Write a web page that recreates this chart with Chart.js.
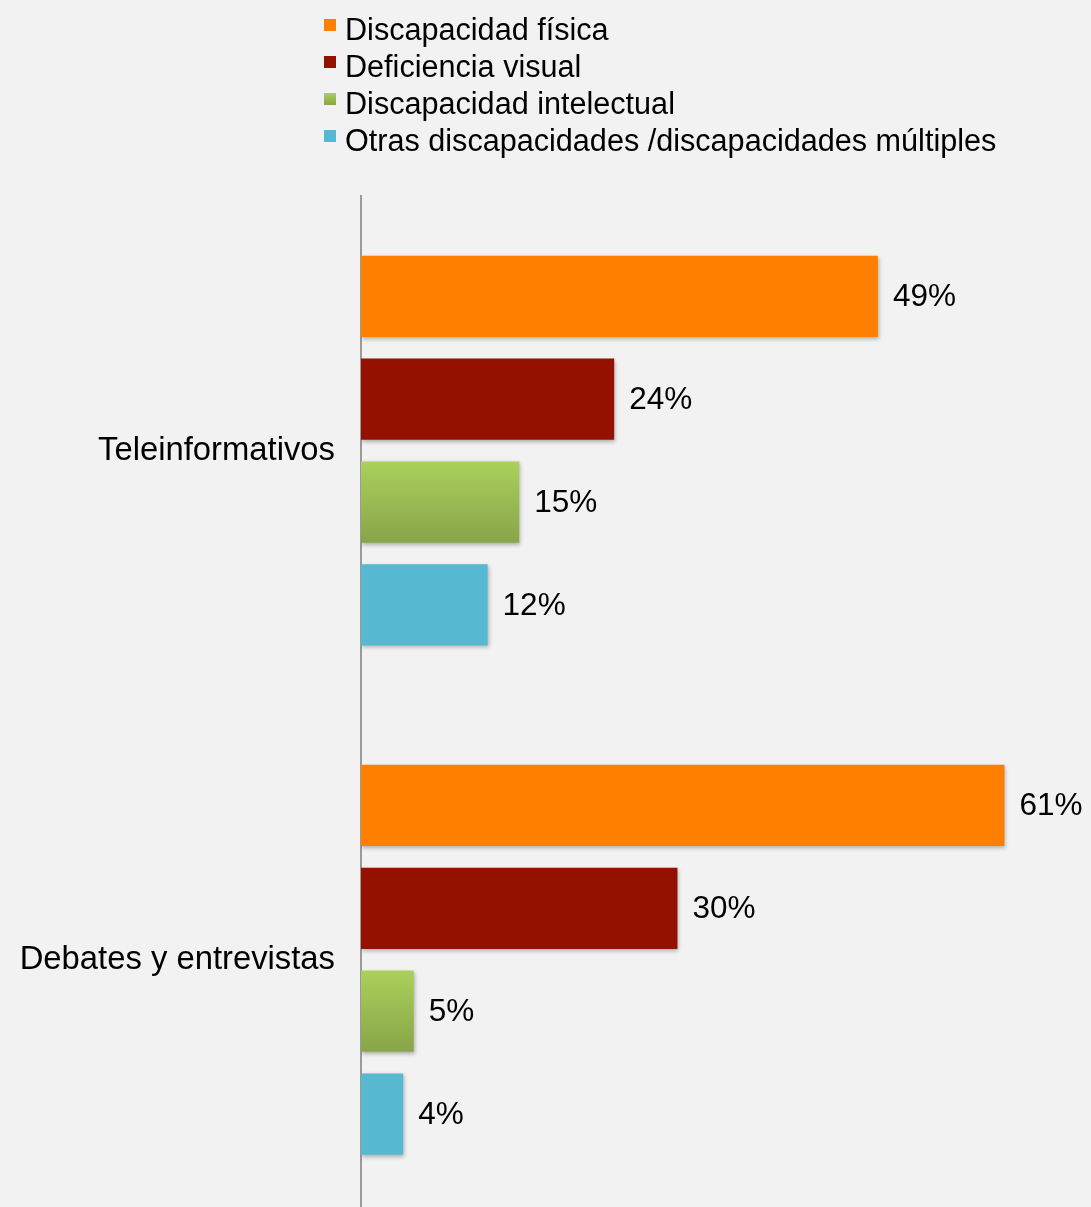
<!DOCTYPE html>
<html lang="es">
<head>
  <meta charset="UTF-8">
  <title>Discapacidad por tipo de programa</title>
  <style>
    html, body {
      margin: 0;
      padding: 0;
      width: 1091px;
      height: 1207px;
      overflow: hidden;
      background: #f2f2f2;
      font-family: "Liberation Sans", Helvetica, Arial, sans-serif;
    }
    #chart {
      position: absolute;
      left: 0;
      top: 0;
    }
    #legend {
      position: absolute;
      left: 324px;
      top: 11px;
      margin: 0;
      padding: 0;
      list-style: none;
      font-size: 30.6px;
      color: #000;
      z-index: 2;
    }
    #legend li {
      position: relative;
      height: 37px;
      line-height: 37px;
      padding-left: 21px;
      white-space: nowrap;
    }
    #legend li span {
      position: absolute;
      left: 0;
      top: 8px;
      width: 12px;
      height: 12px;
    }
  </style>
</head>
<body>
  <ul id="legend"></ul>
  <canvas id="chart" width="1091" height="1260"></canvas>

  <script src="https://cdn.jsdelivr.net/npm/chart.js"></script>
  <script>
    // data (percent)
    const categories = ['Teleinformativos', 'Debates y entrevistas'];
    const seriesNames = [
      'Discapacidad física',
      'Deficiencia visual',
      'Discapacidad intelectual',
      'Otras discapacidades /discapacidades múltiples'
    ];
    const fisica = [49, 61];
    const visual = [24, 30];
    const intelectual = [15, 5];
    const otras = [12, 4];

    const colors = ['#ff7f00', '#941100', '#9cbf52', '#57b9d1'];

    // green bars have a soft top-to-bottom gradient
    function greenFill(ctx) {
      const chart = ctx.chart;
      const meta = chart.getDatasetMeta(ctx.datasetIndex);
      const el = meta.data[ctx.dataIndex];
      if (!el || el.y == null || isNaN(el.y) || !el.height) return colors[2];
      const g = chart.ctx.createLinearGradient(0, el.y - el.height / 2, 0, el.y + el.height / 2);
      g.addColorStop(0, '#abd05b');
      g.addColorStop(1, '#88a549');
      return g;
    }

    const seriesData = [fisica, visual, intelectual, otras];
    const datasets = seriesData.map((d, i) => ({
      label: seriesNames[i],
      data: d,
      backgroundColor: i === 2 ? greenFill : colors[i],
      borderWidth: 0,
      categoryPercentage: 0.808,
      barPercentage: 0.79
    }));

    // html legend, one row per series
    const legend = document.getElementById('legend');
    seriesNames.forEach((name, i) => {
      const li = document.createElement('li');
      const sw = document.createElement('span');
      sw.style.background = i === 2 ? 'linear-gradient(#abd05b, #88a549)' : colors[i];
      li.appendChild(sw);
      li.appendChild(document.createTextNode(name));
      legend.appendChild(li);
    });

    const barShadow = {
      id: 'barShadow',
      beforeDatasetDraw(chart) {
        const c = chart.ctx;
        c.save();
        c.shadowColor = 'rgba(0, 0, 0, 0.28)';
        c.shadowBlur = 4;
        c.shadowOffsetX = 1;
        c.shadowOffsetY = 2;
      },
      afterDatasetDraw(chart) {
        chart.ctx.restore();
      }
    };

    const valueLabels = {
      id: 'valueLabels',
      afterDatasetsDraw(chart) {
        const c = chart.ctx;
        c.save();
        c.font = '31.5px "Liberation Sans", Helvetica, Arial, sans-serif';
        c.fillStyle = '#000';
        c.textAlign = 'left';
        c.textBaseline = 'middle';
        chart.data.datasets.forEach((ds, di) => {
          chart.getDatasetMeta(di).data.forEach((bar, i) => {
            c.fillText(ds.data[i] + '%', bar.x + 15, bar.y + 1);
          });
        });
        c.restore();
      }
    };

    const chart = new Chart(document.getElementById('chart'), {
      type: 'bar',
      data: {
        labels: categories,
        datasets: datasets
      },
      options: {
        indexAxis: 'y',
        responsive: false,
        animation: false,
        layout: {
          padding: { top: 196, right: 0, bottom: 0, left: 0 }
        },
        plugins: {
          legend: { display: false },
          tooltip: { enabled: false }
        },
        scales: {
          x: {
            display: false,
            min: 0,
            max: 69.2
          },
          y: {
            grid: { display: false, drawTicks: false },
            border: { display: true, color: '#9a9a9a', width: 2 },
            ticks: {
              color: '#000',
              padding: 26,
              font: { family: '"Liberation Sans", Helvetica, Arial, sans-serif', size: 32.8 }
            },
            afterFit(scale) {
              scale.width = 361;
            }
          }
        }
      },
      plugins: [barShadow, valueLabels]
    });

    // second pass so the gradient can use the bar positions
    chart.update('none');
  </script>
</body>
</html>
